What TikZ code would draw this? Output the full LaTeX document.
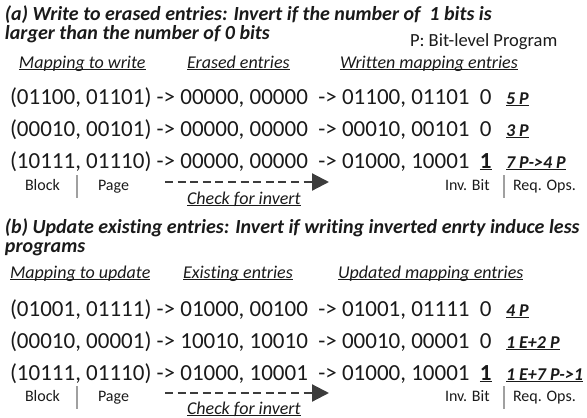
\documentclass[tikz,border=0pt]{standalone}
\usepackage{fontspec}
\setmainfont{Carlito}[Ligatures={TeX,NoCommon}]
\usetikzlibrary{arrows.meta}
\definecolor{ink}{HTML}{1A1A1A}
\definecolor{sepgray}{HTML}{A0A0A0}
\definecolor{arrowgray}{HTML}{3C3C3C}
% underline drawn at a fixed depth, crossing descenders
\newcommand\ulbox[1]{\setbox0\hbox{#1}\rlap{\rule[-2.4pt]{\wd0}{1pt}}\box0}
\newcommand\invone{\ulbox{\textbf{1}}}
\tikzset{
  txt/.style={anchor=base west, inner sep=0pt, outer sep=0pt, text=ink},
  % two-line titles: the node is placed by the baseline of its last line
  title/.style={txt, align=left, font=\fontsize{20}{19}\selectfont\bfseries\itshape},
  head/.style={txt, font=\fontsize{18}{21}\selectfont\itshape},
  row/.style={txt, font=\fontsize{23}{27}\selectfont},
  ops/.style={txt, font=\fontsize{18}{21}\selectfont\bfseries\itshape},
  small/.style={txt, font=\fontsize{16}{19}\selectfont},
  legend/.style={txt, font=\fontsize{18.5}{22}\selectfont},
  sep/.style={draw=sepgray, line width=1.4pt},
  chk/.style={draw=arrowgray, line width=2.2pt, dash pattern=on 8pt off 4.6pt,
    -{Triangle[length=17pt,width=17pt,fill=arrowgray]}},
}
\begin{document}
\begin{tikzpicture}[x=1pt,y=-1pt]
\useasboundingbox (0,0) rectangle (587,418);
\clip (0,0) rectangle (587,418);

% ---------------- part (a) ----------------
\node[title] (ta) at (5,39.5) {(a) Write to erased entries: Invert if the number of\ \ 1 bits is\\larger than the number of 0 bits};
\node[legend] (leg) at (410,46.5) {P: Bit-level Program};

\node[head] (ha1) at (19,68) {\ulbox{Mapping to write}};
\node[head] (ha2) at (187,68) {\ulbox{Erased entries}};
\node[head] (ha3) at (340,68) {\ulbox{Written mapping entries}};

\node[row] (ar1) at (10,104) {(01100, 01101) -> 00000, 00000\ \ -> 01100, 01101\ \ 0};
\node[row] (ar2) at (10,136) {(00010, 00101) -> 00000, 00000\ \ -> 00010, 00101\ \ 0};
\node[row] (ar3) at (10,168) {(10111, 01110) -> 00000, 00000\ \ -> 01000, 10001\ \ \invone};
\node[ops] (ao1) at (506,104) {\ulbox{5 P}};
\node[ops] (ao2) at (506,136) {\ulbox{3 P}};
\node[ops] (ao3) at (506,168) {\ulbox{7 P->4 P}};

\node[small] (ablk) at (25,190) {Block};
\node[small] (apg) at (98,190) {Page};
\coordinate (asepT) at (77,175);
\coordinate (asepB) at (77,198);
\draw[sep] (asepT) -- (asepB);
\coordinate (achkS) at (165,182);
\coordinate (achkE) at (329,182);
\draw[chk] (achkS) -- (achkE);
\node[head] (achk) at (187,204) {\ulbox{Check for invert}};
\node[small] (ainv) at (445,190) {Inv. Bit};
\node[small] (areq) at (513,190) {Req. Ops.};
\coordinate (asep2T) at (504,175);
\coordinate (asep2B) at (504,198);
\draw[sep] (asep2T) -- (asep2B);

% ---------------- part (b) ----------------
\node[title] (tb) at (5,252.5) {(b) Update existing entries: Invert if writing inverted enrty induce less\\programs};

\node[head] (hb1) at (10,278) {\ulbox{Mapping to update}};
\node[head] (hb2) at (183,278) {\ulbox{Existing entries}};
\node[head] (hb3) at (338,278) {\ulbox{Updated mapping entries}};

\node[row] (br1) at (10,316) {(01001, 01111) -> 01000, 00100\ \ -> 01001, 01111\ \ 0};
\node[row] (br2) at (10,348) {(00010, 00001) -> 10010, 10010\ \ -> 00010, 00001\ \ 0};
\node[row] (br3) at (10,380) {(10111, 01110) -> 01000, 10001\ \ -> 01000, 10001\ \ \invone};
\node[ops] (bo1) at (506,316) {\ulbox{4 P}};
\node[ops] (bo2) at (506,348) {\ulbox{1 E+2 P}};
\node[ops] (bo3) at (506,380) {\ulbox{1 E+7 P->1}};

\node[small] (bblk) at (25,401) {Block};
\node[small] (bpg) at (98,401) {Page};
\coordinate (bsepT) at (77,386);
\coordinate (bsepB) at (77,409);
\draw[sep] (bsepT) -- (bsepB);
\coordinate (bchkS) at (165,393);
\coordinate (bchkE) at (329,393);
\draw[chk] (bchkS) -- (bchkE);
\node[head] (bchk) at (187,414) {\ulbox{Check for invert}};
\node[small] (binv) at (445,401) {Inv. Bit};
\node[small] (breq) at (513,401) {Req. Ops.};
\coordinate (bsep2T) at (504,386);
\coordinate (bsep2B) at (504,409);
\draw[sep] (bsep2T) -- (bsep2B);
\end{tikzpicture}
\end{document}
